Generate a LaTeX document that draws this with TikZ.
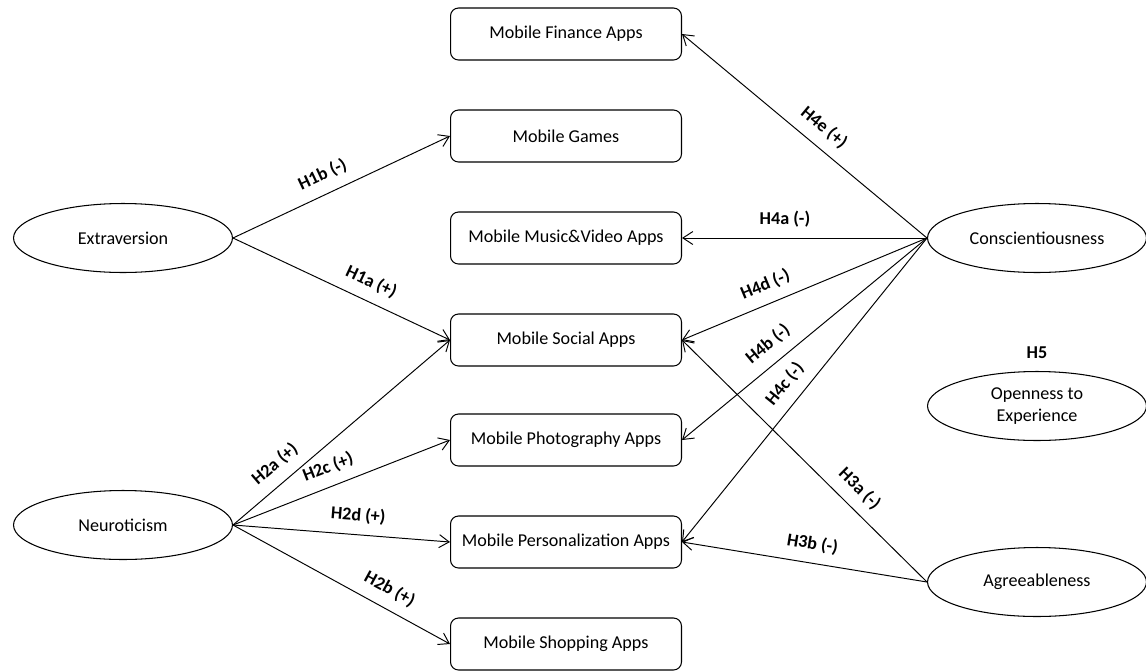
\documentclass[tikz,border=0pt]{standalone}
\usepackage{fontspec}
\setmainfont{Carlito}
\usetikzlibrary{arrows.meta,shapes.geometric}

\begin{document}
\begin{tikzpicture}[x=0.02cm,y=-0.02cm,font=\fontsize{10.3}{12.4}\selectfont,
        appbox/.style={draw,line width=0.6pt,rounded corners=0.16cm,minimum width=4.62cm,minimum height=1.04cm},
        trait/.style={draw,line width=0.6pt,ellipse,inner sep=0pt,align=center,minimum width=4.38cm,minimum height=1.38cm},
        hyp/.style={-{Straight Barb[length=2mm,width=2.6mm]},line width=0.55pt},
        hlabel/.style={sloped,above=6pt,inner sep=0pt,font=\fontsize{10.3}{12.4}\selectfont\bfseries}
      ]

      \useasboundingbox (0,0) rectangle (1146,670);

      % app categories
      \node[appbox] (finance)  at (566, 34)  {Mobile Finance Apps};
      \node[appbox] (games)    at (566, 136) {Mobile Games};
      \node[appbox] (music)    at (566, 238) {Mobile Music\&Video Apps};
      \node[appbox] (social)   at (566, 340) {Mobile Social Apps};
      \node[appbox] (photo)    at (566, 440) {Mobile Photography Apps};
      \node[appbox] (personal) at (566, 542) {Mobile Personalization Apps};
      \node[appbox] (shopping) at (566, 644) {Mobile Shopping Apps};

      % personality traits
      \node[trait] (extra)    at (123, 238)  {Extraversion};
      \node[trait] (neuro)    at (123, 525)  {Neuroticism};
      \node[trait] (consc)    at (1037, 238) {Conscientiousness};
      \node[trait] (open)     at (1037, 406) {Openness to\\Experience};
      \node[trait] (agree)    at (1037, 582) {Agreeableness};
      \node[font=\fontsize{10.3}{12.4}\selectfont\bfseries] (hfive) at (1037, 353) {H5};

      % hypotheses
      \draw[hyp] (extra.east) -- node[hlabel,pos=.45] {H1b (-)} (games.west);
      \draw[hyp] (extra.east) -- node[hlabel,pos=.6]  {H1a (+)} (social.west);
      \draw[hyp] (neuro.east) -- node[hlabel,pos=.25] {H2a (+)} (social.west);
      \draw[hyp] (neuro.east) -- node[hlabel,pos=.47] {H2c (+)} (photo.west);
      \draw[hyp] (neuro.east) -- node[hlabel,pos=.57] {H2d (+)} (personal.west);
      \draw[hyp] (neuro.east) -- node[hlabel,pos=.68] {H2b (+)} (shopping.west);
      \draw[hyp] (consc.west) -- node[hlabel,pos=.47] {H4e (+)} (finance.east);
      \draw[hyp] (consc.west) -- node[hlabel,pos=.58] {H4a (-)} (music.east);
      \draw[hyp] (consc.west) -- node[hlabel,pos=.63] {H4d (-)} (social.east);
      \draw[hyp] (consc.west) -- node[hlabel,pos=.6]  {H4b (-)} (photo.east);
      \draw[hyp] (consc.west) -- node[hlabel,pos=.52] {H4c (-)} (personal.east);
      \draw[hyp] (agree.west) -- node[hlabel,pos=.33] {H3a (-)} (social.east);
      \draw[hyp] (agree.west) -- node[hlabel,pos=.48] {H3b (-)} (personal.east);

    \end{tikzpicture}
\end{document}
